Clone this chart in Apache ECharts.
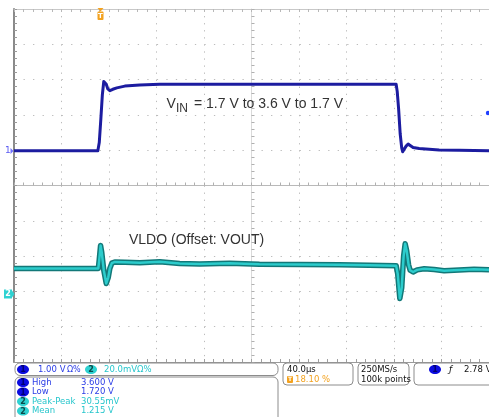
<!DOCTYPE html>
<html><head><meta charset="utf-8">
<script src="https://cdn.jsdelivr.net/npm/echarts@6/dist/echarts.min.js"></script>
<style>html,body{margin:0;padding:0;background:#fff}#c{width:489px;height:417px}</style>
</head><body><div id="c"></div>
<script>
// Channel 1 (V_IN): time in µs relative to trigger, volts
const ch1Time  = [-72.4, -1.8, -0.6, 0.7, 2.0, 3.2, 4.1, 5.3, 6.6, 8.3, 10.8, 14.2, 20.9, 33.5, 50.3, 249.4, 250.3, 251.5, 252.8, 254.1, 254.9, 256.2, 257.8, 259.5, 261.2, 263.7, 268.8, 285.6, 302.4, 327.6];
const ch1Volts = [1.72, 1.72, 1.95, 2.60, 3.30, 3.68, 3.70, 3.60, 3.47, 3.42, 3.46, 3.50, 3.55, 3.58, 3.60, 3.60, 3.40, 2.90, 2.20, 1.80, 1.69, 1.72, 1.85, 1.91, 1.87, 1.81, 1.78, 1.74, 1.73, 1.72];
// Channel 2 (VLDO, offset VOUT): time in µs, mV relative to screen centre
const ch2Time = [-72.4, -1.4, -0.6, 0.5, 1.5, 3.2, 5.3, 7.0, 8.3, 10.0, 12.5, 20.9, 33.5, 50.3, 67.1, 83.9, 109.1, 134.3, 168.0, 201.5, 226.7, 249.4, 250.7, 252.5, 254.1, 255.7, 257.0, 258.3, 259.9, 261.2, 263.7, 267.1, 273.0, 281.4, 289.8, 302.4, 315.0, 327.6];
const ch2mV   = [-47, -47, -42, -34, -38, -48, -55.5, -52, -47, -44, -43.3, -43.5, -43.8, -43.2, -44.2, -44.5, -44, -44.6, -44.8, -44.9, -45.2, -45.4, -50, -64, -58, -40, -33, -37, -45, -48, -49, -47.8, -47.2, -47.6, -48.3, -47.9, -47.5, -47.7];
// Measurement panel
const measLabels  = ['High', 'Low', 'Peak-Peak', 'Mean'];
const measValues  = ['3.600 V', '1.720 V', '30.55mV', '1.215 V'];
const measChannel = [1, 1, 2, 2];
const scaleTexts = ['1.00 V', 'Ω%', '20.0mVΩ%'];
const timebase = '40.0µs', trigPos = '18.10 %', sampleRate = '250MS/s', points = '100k points', trigLevel = '2.78 V';
const annotVin = ['V', 'IN', '= 1.7 V to 3.6 V to 1.7 V'];
const annotLdo = 'VLDO (Offset: VOUT)';

const BLUE = '#1c1ca0', CYAN = '#2ccccc', CYAN_D = '#127878';
const TXT_BLUE = '#2a3ce6', TXT_CYAN = '#27c6cc', ORANGE = '#f3a21f';
const SF = '"DejaVu Sans", sans-serif', AF = '"Liberation Sans", Arial, sans-serif';

const chart = echarts.init(document.getElementById('c'), null, {renderer: 'canvas'});

function divAxis(extra) {
  return Object.assign({
    type: 'value', min: -5, max: 5, interval: 1, gridIndex: 0,
    axisLabel: {show: false}, splitLine: {show: false},
    axisTick: {show: false}, minorTick: {show: false}, axisLine: {show: false}
  }, extra);
}
const tickStyle = c => ({show: true, inside: true, length: 3, lineStyle: {color: c, width: 1}});
const minorStyle = c => ({show: true, splitNumber: 5, length: 3, lineStyle: {color: c, width: 1}});

const graphics = [];
function txt(x, y, s, fill, font, align) {
  graphics.push({type: 'text', x: x, y: y, silent: true, z: 10,
    style: {text: s, fill: fill, font: font, align: align || 'left', verticalAlign: 'middle',
            textAlign: align || 'left', textVerticalAlign: 'middle'}});
}
function box(x, y, w, h, r) {
  graphics.push({type: 'rect', shape: {x: x, y: y, width: w, height: h, r: r}, silent: true, z: 9,
    style: {fill: '#fff', stroke: '#8c8c8c', lineWidth: 1}});
}
function badge(cx, cy, n) {
  const blue = n === 1;
  graphics.push({type: 'ellipse', shape: {cx: cx, cy: cy, rx: 6, ry: 4.5}, silent: true, z: 10,
    style: {fill: blue ? '#0c0ce0' : '#2fd2d2'}});
  txt(cx, cy + 0.5, String(n), blue ? '#000070' : '#0b4a4a', 'bold 8px ' + SF, 'center');
}

// annotations
txt(166.5, 104.5, annotVin[0], '#333', '14px ' + AF);
txt(176, 108.7, annotVin[1], '#333', '12px ' + AF);
txt(194, 104.5, annotVin[2], '#333', '14px ' + AF);
txt(129, 240, annotLdo, '#333', '14px ' + AF);

// trigger marker at top
graphics.push({type: 'polygon', shape: {points: [[97.5, 8], [103.5, 8], [100.5, 11.5]]}, silent: true, z: 10, style: {fill: ORANGE}});
graphics.push({type: 'rect', shape: {x: 97.5, y: 11.5, width: 6, height: 8.5, r: 1}, silent: true, z: 10, style: {fill: ORANGE}});
txt(100.5, 16, 'T', '#fff', 'bold 7px ' + SF, 'center');
// channel ground markers
txt(5, 151, '1', '#5a5af2', '9px ' + SF);
graphics.push({type: 'polygon', shape: {points: [[10.5, 148], [13.5, 151], [10.5, 154]]}, silent: true, z: 10, style: {fill: '#7070ff'}});
graphics.push({type: 'rect', shape: {x: 4, y: 289.5, width: 8, height: 9}, silent: true, z: 10, style: {fill: '#2fd2d2'}});
txt(8, 294.2, '2', '#fff', 'bold 8px ' + SF, 'center');
graphics.push({type: 'polygon', shape: {points: [[12, 290.5], [14.5, 294], [12, 297.5]]}, silent: true, z: 10, style: {fill: '#2fd2d2'}});
// trigger level marker on right
graphics.push({type: 'circle', shape: {cx: 488, cy: 113, r: 2.2}, silent: true, z: 10, style: {fill: '#2040ff'}});

// status bar
box(15, 363, 263, 12.5, 5);
badge(23, 369.5, 1);
txt(38, 369.5, scaleTexts[0], TXT_BLUE, '8.5px ' + SF);
txt(67, 369.5, scaleTexts[1], TXT_BLUE, '8px ' + SF);
badge(91, 369.5, 2);
txt(104, 369.5, scaleTexts[2], TXT_CYAN, '8.5px ' + SF);

box(15, 377, 263, 46, 5);
const rowY = [382.5, 392, 401.5, 411];
measLabels.forEach((lab, i) => {
  const c = measChannel[i] === 1 ? TXT_BLUE : TXT_CYAN;
  badge(23, rowY[i], measChannel[i]);
  txt(32, rowY[i], lab, c, '8.5px ' + SF);
  txt(81, rowY[i], measValues[i], c, '8.5px ' + SF);
});

box(283, 363, 70, 22, 4);
txt(287, 369.5, timebase, '#111', '8.5px ' + SF);
graphics.push({type: 'rect', shape: {x: 287, y: 376, width: 6, height: 7, r: 1}, silent: true, z: 10, style: {fill: ORANGE}});
txt(290, 379.7, 'T', '#fff', 'bold 6px ' + SF, 'center');
txt(295, 379.5, trigPos, ORANGE, '8.5px ' + SF);

box(358, 363, 51, 22, 4);
txt(361, 369.5, sampleRate, '#111', '8.5px ' + SF);
txt(361, 379.5, points, '#111', '8.5px ' + SF);

box(414, 363, 80, 22, 4);
badge(435, 369.5, 1);
txt(449, 369.5, 'ƒ', '#111', 'italic 9px ' + SF);
txt(464, 369.5, trigLevel, '#111', '8.5px ' + SF);

chart.setOption({
  animation: false,
  backgroundColor: '#ffffff',
  grid: {left: 14, top: 9, width: 476, height: 353, show: false},
  xAxis: [
    divAxis({position: 'bottom',
      axisLine: {show: true, onZero: true, onZeroAxisIndex: 0, lineStyle: {color: '#b9b9b9', width: 1}},
      axisTick: tickStyle('#b0b0b0'), minorTick: minorStyle('#b0b0b0'),
      splitLine: {show: true, lineStyle: {color: '#bcbcbc', width: 1, type: [1.3, 5.76]}}}),
    divAxis({position: 'top',
      axisLine: {show: true, onZero: false, lineStyle: {color: '#c8c8c8', width: 1}},
      axisTick: tickStyle('#b8b8b8'), minorTick: minorStyle('#b8b8b8')}),
    divAxis({position: 'bottom',
      axisLine: {show: true, onZero: false, lineStyle: {color: '#9a9a9a', width: 1}},
      axisTick: tickStyle('#a0a0a0'), minorTick: minorStyle('#a0a0a0')}),
    {type: 'value', gridIndex: 0, show: false, min: -72.4, max: 327.6}
  ],
  yAxis: [
    divAxis({position: 'left',
      axisLine: {show: true, onZero: false, lineStyle: {color: '#8a8a8a', width: 2}},
      axisTick: tickStyle('#9a9a9a'), minorTick: minorStyle('#9a9a9a'),
      splitLine: {show: true, lineStyle: {color: '#bcbcbc', width: 1, type: [1.3, 8.22]}}}),
    divAxis({position: 'left',
      axisLine: {show: true, onZero: true, onZeroAxisIndex: 0, lineStyle: {color: '#dadada', width: 1}},
      axisTick: tickStyle('#b0b0b0'), minorTick: minorStyle('#b0b0b0')}),
    {type: 'value', gridIndex: 0, show: false, min: -4.266, max: 5.734},
    {type: 'value', gridIndex: 0, show: false, min: -100, max: 100}
  ],
  series: [
    {type: 'line', name: 'CH1', xAxisIndex: 3, yAxisIndex: 2, symbol: 'none', z: 4,
     data: ch1Time.map((t, i) => [t, ch1Volts[i]]),
     lineStyle: {color: BLUE, width: 3, join: 'round'}},
    {type: 'line', name: 'CH2 band', xAxisIndex: 3, yAxisIndex: 3, symbol: 'none', z: 3,
     data: ch2Time.map((t, i) => [t, ch2mV[i]]),
     lineStyle: {color: CYAN_D, width: 5.5, join: 'round'}},
    {type: 'line', name: 'CH2', xAxisIndex: 3, yAxisIndex: 3, symbol: 'none', z: 3,
     data: ch2Time.map((t, i) => [t, ch2mV[i]]),
     lineStyle: {color: CYAN, width: 2.5, join: 'round'}}
  ],
  graphic: {elements: graphics}
});
</script></body></html>
